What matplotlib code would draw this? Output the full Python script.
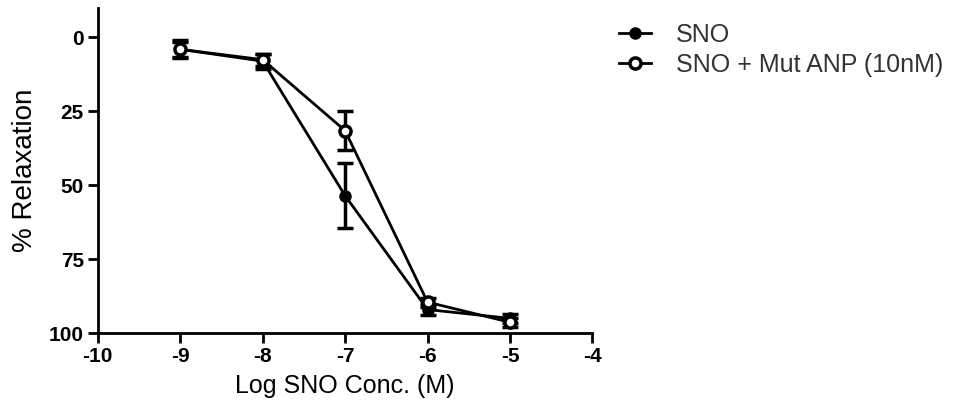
import matplotlib
matplotlib.use('Agg')
import matplotlib.pyplot as plt

plt.rcParams['font.family'] = ['Liberation Sans', 'DejaVu Sans']
plt.rcParams['axes.unicode_minus'] = False

log_conc = [-9, -8, -7, -6, -5]

sno = [4, 8, 53.5, 92, 95]
sno_err = [3, 2.5, 11, 2, 1.5]

mut = [4, 7.5, 31.5, 89.5, 96.3]
mut_err = [2.5, 2, 6.6, 1.5, 1.5]

fig = plt.figure(figsize=(9.68, 4.17), dpi=100)
ax = fig.add_axes([0.101, 0.201, 0.511, 0.78])

e1 = ax.errorbar(log_conc, sno, yerr=sno_err, color='black', lw=2, marker='o', ms=8,
                 mfc='black', mec='black', capsize=6, capthick=2.5, elinewidth=2.5)
e2 = ax.errorbar(log_conc, mut, yerr=mut_err, color='black', lw=2, marker='o', ms=8,
                 mfc='white', mec='black', mew=2.5, capsize=6, capthick=2.5, elinewidth=2.5)

ax.set_xlim(-10, -4)
ax.set_ylim(100, -10)
ax.set_xticks([-10, -9, -8, -7, -6, -5, -4])
ax.set_yticks([0, 25, 50, 75, 100])
ax.spines['top'].set_visible(False)
ax.spines['right'].set_visible(False)
for s in ['left', 'bottom']:
    ax.spines[s].set_linewidth(2)
ax.tick_params(width=2, length=7, labelsize=15, pad=3)
for lab in ax.get_xticklabels() + ax.get_yticklabels():
    lab.set_fontweight('bold')

ax.set_xlabel('Log SNO Conc. (M)', fontsize=18, labelpad=6)
ax.set_ylabel('% Relaxation', fontsize=20, labelpad=8)

leg = fig.legend([e1[0], e2[0]], ['SNO', 'SNO + Mut ANP (10nM)'], loc='upper left',
                 bbox_to_anchor=(0.639, 0.945), frameon=False, fontsize=18,
                 borderpad=0, borderaxespad=0,
                 handlelength=1.3, handletextpad=1.0, labelspacing=0.25)
for t in leg.get_texts():
    t.set_color('#333333')

fig.savefig('out.png', dpi=100)
